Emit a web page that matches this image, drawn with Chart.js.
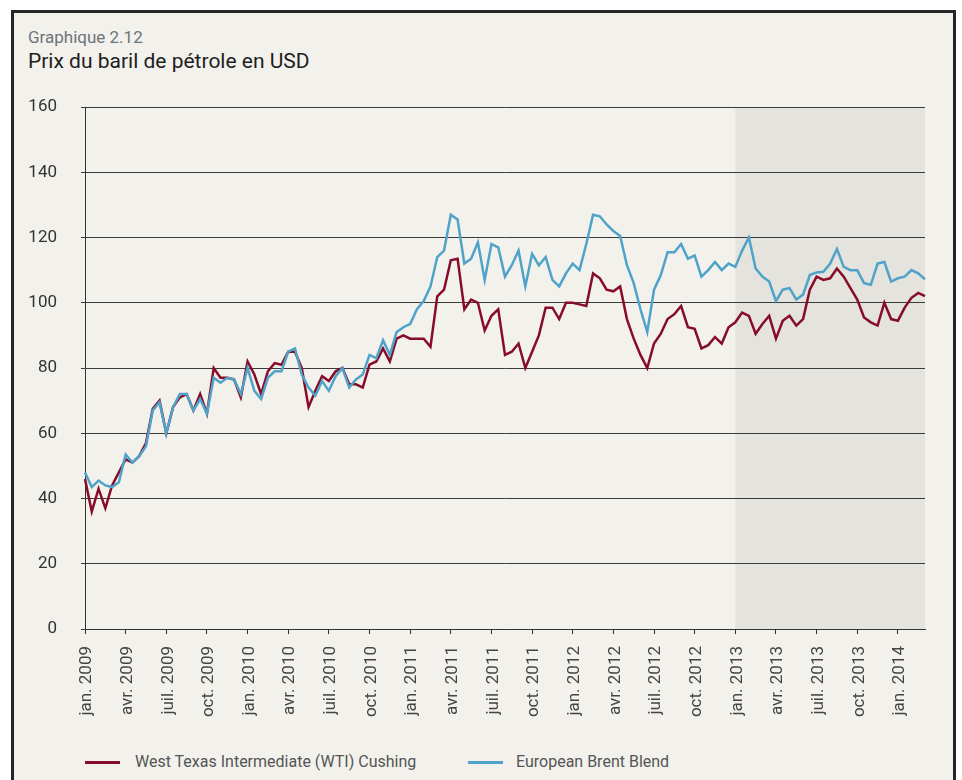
<!DOCTYPE html>
<html lang="fr">
<head>
<meta charset="utf-8">
<script src="https://cdn.jsdelivr.net/npm/chart.js@4.4.0/dist/chart.umd.min.js"></script>
<style>
html, body { margin: 0; padding: 0; overflow: hidden; background: #fff; font-family: Roboto, sans-serif; }
#cadre { position: absolute; left: 11px; top: 10px; width: 939px; height: 800px; border: 3px solid #262626; background: #f2f1ec; }
#surtitre { position: absolute; left: 28px; top: 29px; font-size: 17px; line-height: 17px; color: #6d7479; }
#titre { position: absolute; left: 28px; top: 51px; font-size: 21px; line-height: 21px; color: #1e1e1e; }
#graph { position: absolute; left: 0; top: 0; z-index: 1; }
.leg-trait { position: absolute; top: 761px; width: 35px; height: 3px; z-index: 2; }
.leg-texte { position: absolute; top: 754px; font-size: 16px; line-height: 16px; color: #555; z-index: 2; }
</style>
</head>
<body>
<div id="cadre"></div>
<div id="surtitre">Graphique 2.12</div>
<div id="titre">Prix du baril de pétrole en USD</div>
<canvas id="graph" width="962" height="740"></canvas>
<div class="leg-trait" id="trait1" style="left:85px"></div>
<div class="leg-texte" id="texte1" style="left:135px"></div>
<div class="leg-trait" id="trait2" style="left:468px"></div>
<div class="leg-texte" id="texte2" style="left:516px"></div>
<script>
// tick labels of the x axis (one every quarter)
const etiquettes = ['jan. 2009','avr. 2009','juil. 2009','oct. 2009','jan. 2010','avr. 2010','juil. 2010','oct. 2010',
    'jan. 2011','avr. 2011','juil. 2011','oct. 2011','jan. 2012','avr. 2012','juil. 2012','oct. 2012',
    'jan. 2013','avr. 2013','juil. 2013','oct. 2013','jan. 2014'];

// West Texas Intermediate (WTI) Cushing, USD, half-monthly from jan. 2009
const wti = [46,36,43,37,44,48,52,51,53,57,
    67.5,70,60,68,71,72,67,72,66,80,
    77,77,76.5,71,82,78,72,79,81.5,81,
    85,85,80,68,73,77.5,76,79,80,75,
    75,74,81,82,86,82,89,90,89,89,
    89,86.5,102,104,113,113.5,98,101,100,91.5,
    96,98,84,85,87.5,80,85,90,98.5,98.5,
    95,100,100,99.5,99,109,107.5,104,103.5,105,
    95,89,84,80,87.5,90.5,95,96.5,99,92.5,
    92,86,87,89.5,87.5,92.5,94,97,96,90.5,
    93.5,96,89,94.5,96,93,95,104,108,107,
    107.5,110.5,108,104.5,101,95.5,94,93,100,95,
    94.5,98.5,101.5,103,102];

// European Brent Blend, USD
const brent = [48,43.5,45.5,44,43.5,45,53.5,51,53,56,
    67,69.5,60,68,72,72,67,70.5,66,77,
    75.5,77,76.5,72,80,73,70.5,77,79,79,
    85,86,78,74,71.5,76,73,77.5,80,74,
    76.5,78,84,83,88.5,84,91,92.5,93.5,98,
    100.5,105,114,116,127,125.5,112,113.5,118.5,107,
    118,117,108,111.5,116,105,115,111.5,114,107,
    105,109,112,110,118,127,126.5,124,122,120.5,
    111.5,106,98,91,104,108.5,115.5,115.5,118,113.5,
    114.5,108,110,112.5,110,112,111,116,120,110.5,
    108,106.5,100.5,104,104.5,101,102.5,108.5,109.3,109.5,
    112,116.5,111,110,110,106,105.5,112,112.5,106.5,
    107.5,108,110,109,107.2];

const series = ['West Texas Intermediate (WTI) Cushing', 'European Brent Blend'];
const couleurs = ['#870c2a', '#4fa2c8'];

// dates (1er et 15 de chaque mois)
const dates = [];
for (let a = 2009; a <= 2014; a++) {
    for (let m = 1; m <= 12; m++) {
        const mm = String(m).padStart(2, '0');
        dates.push(`${a}-${mm}-01`, `${a}-${mm}-15`);
    }
}
const labels = dates.slice(0, wti.length);
const debutZone = labels.indexOf('2013-01-01');

const zoneGrise = {
    id: 'zoneGrise',
    beforeDraw(chart) {
        const { ctx, chartArea, scales } = chart;
        const x0 = scales.x.getPixelForValue(debutZone);
        ctx.save();
        ctx.fillStyle = '#e4e3dd';
        ctx.fillRect(x0, chartArea.top, chartArea.right - x0, chartArea.bottom - chartArea.top);
        ctx.restore();
    }
};

const ctx = document.getElementById('graph').getContext('2d');
const chart = new Chart(ctx, {
    type: 'line',
    data: {
        labels: labels,
        datasets: [
            { label: series[0], data: wti, borderColor: couleurs[0], backgroundColor: couleurs[0], borderWidth: 2.5, pointRadius: 0, tension: 0, order: 2 },
            { label: series[1], data: brent, borderColor: couleurs[1], backgroundColor: couleurs[1], borderWidth: 2.5, pointRadius: 0, tension: 0, order: 1 }
        ]
    },
    options: {
        responsive: false,
        animation: false,
        layout: { padding: { left: 0, right: 37, top: 107, bottom: 0 } },
        plugins: { legend: { display: false }, tooltip: { enabled: false } },
        scales: {
            x: {
                afterFit: s => { s.height = 111; },
                border: { color: '#333', width: 1 },
                grid: {
                    drawOnChartArea: false,
                    drawTicks: true,
                    tickLength: 5,
                    color: c => (c.index % 6 === 0 ? '#333' : 'rgba(0,0,0,0)')
                },
                ticks: {
                    autoSkip: false,
                    maxRotation: 90,
                    minRotation: 90,
                    padding: 12,
                    labelOffset: 2,
                    color: '#444',
                    font: { family: 'Roboto', size: 17 },
                    callback: (v, i) => (i % 6 === 0 ? etiquettes[i / 6] : '')
                }
            },
            y: {
                min: 0,
                max: 160,
                afterFit: s => { s.width = 85; },
                border: { color: '#333', width: 1 },
                grid: { color: '#3a3a3a', lineWidth: 1, tickLength: 4 },
                ticks: {
                    stepSize: 20,
                    padding: 24,
                    color: '#333',
                    font: { family: 'Roboto', size: 17 }
                }
            }
        }
    },
    plugins: [zoneGrise]
});

// legende
document.getElementById('trait1').style.background = couleurs[0];
document.getElementById('trait2').style.background = couleurs[1];
document.getElementById('texte1').textContent = series[0];
document.getElementById('texte2').textContent = series[1];
</script>
</body>
</html>
